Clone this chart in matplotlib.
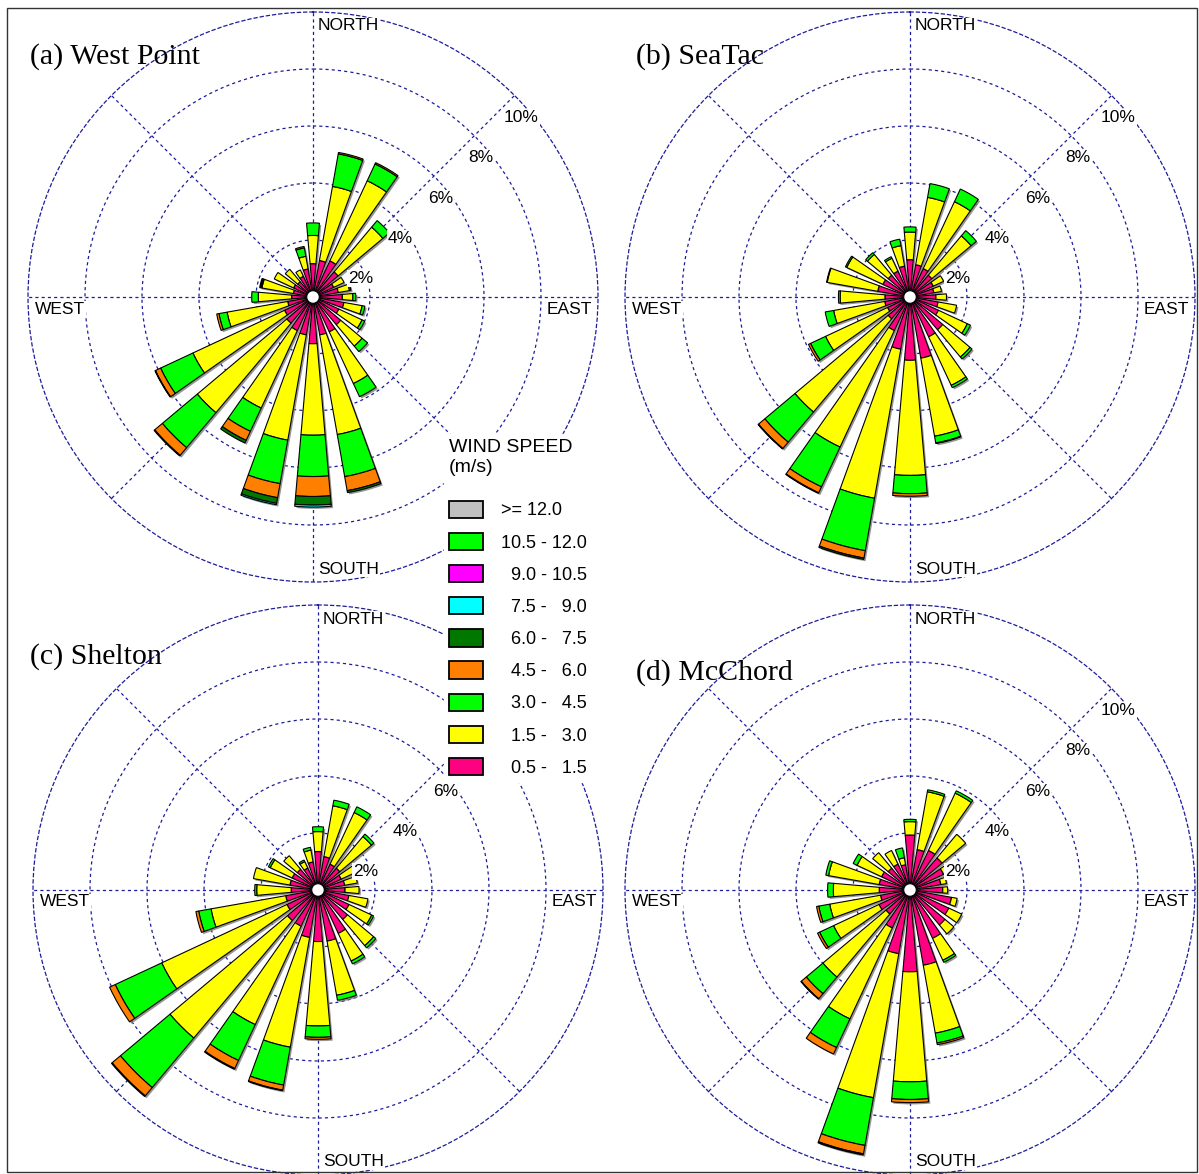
import numpy as np
import matplotlib
matplotlib.use("Agg")
import matplotlib.pyplot as plt
from matplotlib.patches import Patch, Rectangle
import matplotlib.patheffects as pe

plt.rcParams['font.family'] = ['Liberation Sans', 'DejaVu Sans']

# ---------------- data (percent frequency per 15-degree sector) ----------------
directions = list(range(0, 360, 15))
speed_classes = ["0.5 - 1.5", "1.5 - 3.0", "3.0 - 4.5", "4.5 - 6.0", "6.0 - 7.5", "7.5 - 9.0"]

# (a) West Point
A_pink = [1.17, 1.30, 1.40, 1.15, 0.80, 0.90, 1.03, 1.10, 1.00, 1.27, 1.35, 1.35,
          1.64, 1.35, 1.30, 1.20, 1.10, 0.90, 0.75, 0.70, 0.75, 0.70, 0.80, 1.00]
A_yellow = [0.99, 2.64, 3.10, 2.05, 0.40, 0.40, 0.37, 0.65, 0.90, 0.98, 2.00, 3.55,
            3.21, 3.75, 3.00, 4.10, 3.55, 2.16, 1.17, 1.12, 0.75, 0.57, 0.25, 0.45]
A_green = [0.44, 1.16, 0.65, 0.30, 0.00, 0.05, 0.10, 0.10, 0.10, 0.25, 0.51, 1.50,
           1.45, 1.55, 0.90, 1.60, 1.25, 0.29, 0.23, 0.04, 0.00, 0.00, 0.00, 0.30]
A_orange = [0.00, 0.05, 0.05, 0.00, 0.00, 0.00, 0.00, 0.00, 0.00, 0.00, 0.00, 0.50,
            0.70, 0.50, 0.35, 0.35, 0.20, 0.08, 0.00, 0.04, 0.00, 0.00, 0.00, 0.05]
A_dkgreen = [0.00, 0.00, 0.00, 0.00, 0.00, 0.00, 0.00, 0.00, 0.00, 0.00, 0.00, 0.07,
             0.30, 0.20, 0.10, 0.03, 0.02, 0.00, 0.00, 0.00, 0.00, 0.00, 0.00, 0.00]
A_cyan = [0.00, 0.00, 0.00, 0.00, 0.00, 0.00, 0.00, 0.00, 0.00, 0.00, 0.00, 0.00,
          0.07, 0.05, 0.00, 0.00, 0.00, 0.00, 0.00, 0.00, 0.00, 0.00, 0.00, 0.00]

# (b) SeaTac
B_pink = [1.31, 1.15, 1.10, 1.00, 0.90, 0.85, 0.91, 1.00, 1.10, 1.50, 1.54, 2.18,
          2.22, 1.86, 1.30, 1.00, 0.87, 0.90, 0.88, 1.15, 1.05, 1.00, 1.00, 1.10]
B_yellow = [0.97, 2.40, 2.59, 1.80, 0.40, 0.27, 0.37, 0.66, 1.12, 1.25, 1.88, 2.78,
            4.04, 5.31, 4.51, 4.27, 2.40, 1.82, 1.57, 1.80, 1.40, 0.95, 0.50, 0.73]
B_green = [0.18, 0.49, 0.49, 0.24, 0.00, 0.00, 0.00, 0.00, 0.12, 0.09, 0.09, 0.24,
           0.64, 1.87, 1.54, 1.38, 0.58, 0.30, 0.06, 0.02, 0.05, 0.08, 0.06, 0.23]
B_orange = [0.00, 0.00, 0.00, 0.00, 0.00, 0.00, 0.00, 0.00, 0.00, 0.00, 0.00, 0.02,
            0.09, 0.26, 0.23, 0.29, 0.08, 0.00, 0.00, 0.00, 0.00, 0.00, 0.00, 0.00]
B_dkgreen = [0.00, 0.00, 0.00, 0.00, 0.00, 0.00, 0.00, 0.00, 0.00, 0.00, 0.00, 0.00,
             0.00, 0.05, 0.02, 0.02, 0.00, 0.00, 0.00, 0.00, 0.00, 0.00, 0.00, 0.00]
B_cyan = [0.0] * 24

# (c) Shelton
C_pink = [1.35, 1.19, 1.00, 1.00, 0.90, 0.95, 0.95, 1.10, 1.20, 1.35, 1.68, 1.82,
          1.81, 1.69, 1.40, 1.40, 1.20, 1.15, 0.94, 1.00, 1.00, 0.95, 0.85, 1.00]
C_yellow = [0.70, 1.81, 2.00, 1.45, 0.60, 0.45, 0.49, 0.68, 0.88, 1.20, 1.07, 1.93,
            2.96, 3.91, 3.81, 5.38, 4.85, 2.66, 1.21, 1.30, 0.85, 0.62, 0.25, 0.42]
C_green = [0.17, 0.20, 0.22, 0.11, 0.00, 0.00, 0.00, 0.00, 0.07, 0.10, 0.11, 0.18,
           0.40, 1.35, 1.39, 2.27, 1.80, 0.44, 0.07, 0.00, 0.07, 0.00, 0.06, 0.10]
C_orange = [0.00, 0.00, 0.00, 0.00, 0.00, 0.00, 0.00, 0.00, 0.00, 0.00, 0.00, 0.00,
            0.07, 0.18, 0.31, 0.38, 0.22, 0.10, 0.00, 0.00, 0.00, 0.00, 0.00, 0.00]
C_dkgreen = [0.00, 0.00, 0.00, 0.00, 0.00, 0.00, 0.00, 0.00, 0.00, 0.00, 0.00, 0.00,
             0.00, 0.02, 0.03, 0.03, 0.00, 0.00, 0.00, 0.00, 0.00, 0.00, 0.00, 0.00]
C_cyan = [0.0] * 24

# (d) McChord
D_pink = [1.93, 1.44, 1.53, 1.47, 1.30, 1.10, 1.15, 1.48, 1.50, 1.60, 1.87, 2.68,
          2.87, 2.27, 1.47, 1.10, 1.20, 1.05, 1.08, 1.10, 1.10, 1.00, 1.00, 0.90]
D_yellow = [0.47, 2.06, 2.22, 1.08, 0.17, 0.20, 0.17, 0.20, 0.50, 0.41, 0.85, 2.42,
            3.86, 5.13, 3.52, 2.89, 1.76, 1.81, 1.61, 1.80, 0.95, 0.71, 0.53, 0.25]
D_green = [0.08, 0.07, 0.09, 0.00, 0.00, 0.00, 0.00, 0.00, 0.00, 0.00, 0.08, 0.35,
           0.62, 1.70, 1.11, 0.76, 0.54, 0.39, 0.20, 0.10, 0.15, 0.00, 0.00, 0.35]
D_orange = [0.00, 0.00, 0.00, 0.00, 0.00, 0.00, 0.00, 0.00, 0.00, 0.00, 0.00, 0.06,
            0.11, 0.30, 0.25, 0.23, 0.08, 0.08, 0.00, 0.00, 0.00, 0.00, 0.00, 0.00]
D_dkgreen = [0.00, 0.00, 0.00, 0.00, 0.00, 0.00, 0.00, 0.00, 0.00, 0.00, 0.00, 0.00,
             0.00, 0.04, 0.00, 0.02, 0.00, 0.00, 0.00, 0.00, 0.00, 0.00, 0.00, 0.00]
D_cyan = [0.0] * 24

panel_titles = ["(a) West Point", "(b) SeaTac", "(c) Shelton", "(d) McChord"]
ring_values = [2, 4, 6, 8, 10]
legend_labels = [">= 12.0", "10.5 - 12.0", "  9.0 - 10.5", "  7.5 -   9.0", "  6.0 -   7.5",
                 "  4.5 -   6.0", "  3.0 -   4.5", "  1.5 -   3.0", "  0.5 -   1.5"]

# ---------------- styling ----------------
W, H = 1199, 1174
DPI = 100
PT = 72.0 / DPI  # points per pixel
R_PX = 285
GRID = '#1c1c9c'
seg_colors = ['#FF0080', '#FFFF00', '#00FF00', '#FF8000', '#007800', '#00FFFF']
legend_colors = ['#C0C0C0', '#00FF00', '#FF00FF', '#00FFFF', '#007800',
                 '#FF8000', '#00FF00', '#FFFF00', '#FF0080']

panels = [
    dict(center=(313, 297), data=[A_pink, A_yellow, A_green, A_orange, A_dkgreen, A_cyan],
         title_pos=(30, 57), rings_shown=[2, 4, 6, 8, 10]),
    dict(center=(910, 297), data=[B_pink, B_yellow, B_green, B_orange, B_dkgreen, B_cyan],
         title_pos=(636, 57), rings_shown=[2, 4, 6, 8, 10]),
    dict(center=(318, 890), data=[C_pink, C_yellow, C_green, C_orange, C_dkgreen, C_cyan],
         title_pos=(30, 657), rings_shown=[2, 4, 6]),   # 8% / 10% hidden under the legend
    dict(center=(910, 890), data=[D_pink, D_yellow, D_green, D_orange, D_dkgreen, D_cyan],
         title_pos=(636, 673), rings_shown=[2, 4, 6, 8, 10]),
]

fig = plt.figure(figsize=(W / DPI, H / DPI), dpi=DPI)
fig.patch.set_facecolor('white')

theta = np.deg2rad(directions)
bar_w = np.deg2rad(10)
dash = (0, (2.5, 2.5))

for p, title in zip(panels, panel_titles):
    cx, cy = p['center']
    rect = [(cx - R_PX) / W, 1 - (cy + R_PX) / H, 2 * R_PX / W, 2 * R_PX / H]
    ax = fig.add_axes(rect, projection='polar')
    ax.set_theta_zero_location('N')
    ax.set_theta_direction(-1)
    ax.set_ylim(0, 10)
    ax.set_yticks(ring_values[:-1])
    ax.set_yticklabels([])
    ax.set_xticks(np.deg2rad(np.arange(0, 360, 45)))
    ax.set_xticklabels([])
    ax.grid(True, color=GRID, linestyle=dash, linewidth=0.9)
    ax.spines['polar'].set_color(GRID)
    ax.spines['polar'].set_linestyle(dash)
    ax.spines['polar'].set_linewidth(0.9)
    ax.patch.set_alpha(0)
    ax.set_axisbelow(True)

    data = np.array(p['data'])
    total = data.sum(axis=0)
    # drop shadow of each bar
    ax.bar(theta, total, width=bar_w, bottom=0, color='white', edgecolor='none',
           zorder=2, path_effects=[pe.SimplePatchShadow(offset=(1.3, -1.3),
                                                         shadow_rgbFace='#7a7a7a', alpha=0.8)])
    bottom = np.zeros(len(directions))
    for vals, col in zip(data, seg_colors):
        vals = np.asarray(vals)
        mask = vals > 0
        ax.bar(theta[mask], vals[mask], width=bar_w, bottom=bottom[mask], color=col,
               edgecolor='black', linewidth=0.8, zorder=3)
        bottom = bottom + vals
    # calm circle
    tt = np.linspace(0, 2 * np.pi, 120)
    ax.fill(tt, np.full_like(tt, 0.22), facecolor='white', edgecolor='black',
            linewidth=0.8, zorder=5)

    # ring labels
    for r in p['rings_shown']:
        ax.annotate(f'{r}%', xy=(np.pi / 4, r), xytext=(7 * PT, -22 * PT),
                    textcoords='offset points', ha='center', va='center', fontsize=12.5,
                    annotation_clip=False, zorder=6,
                    bbox=dict(facecolor='white', edgecolor='none', pad=0.6))
    # compass labels
    lab_kw = dict(textcoords='offset points', va='center', fontsize=12.5,
                  annotation_clip=False, zorder=6,
                  bbox=dict(facecolor='white', edgecolor='none', pad=0.6))
    ax.annotate('NORTH', xy=(0, 10), xytext=(5 * PT, -14 * PT), ha='left', **lab_kw)
    ax.annotate('SOUTH', xy=(np.pi, 10), xytext=(5 * PT, 13 * PT), ha='left', **lab_kw)
    ax.annotate('WEST', xy=(1.5 * np.pi, 10), xytext=(7 * PT, -12 * PT), ha='left', **lab_kw)
    ax.annotate('EAST', xy=(0.5 * np.pi, 10), xytext=(-6 * PT, -12 * PT), ha='right', **lab_kw)

    tx, ty = p['title_pos']
    fig.text(tx / W, 1 - ty / H, title, family='Liberation Serif', fontsize=21.5,
             ha='left', va='center')

handles = [Patch(facecolor=c, edgecolor='black', linewidth=1.3, label=l)
           for c, l in zip(legend_colors, legend_labels)]
leg = fig.legend(handles=handles, loc='upper left', bbox_to_anchor=(444 / W, 1 - 434 / H),
                 frameon=True, facecolor='white', edgecolor='white', framealpha=1,
                 fancybox=False, title='WIND SPEED\n(m/s)', title_fontsize=14, fontsize=13,
                 handlelength=1.9, handleheight=1.1, handletextpad=1.0, labelspacing=0.74,
                 borderpad=0.28, borderaxespad=0, alignment='left')
leg.get_title().set_multialignment('left')
leg._legend_box.sep = 18
leg.set_zorder(10)

fig.add_artist(Rectangle((7 / W, 1 - 1172 / H), (1197 - 7) / W, (1172 - 8) / H,
                         transform=fig.transFigure, fill=False, edgecolor='#333333',
                         linewidth=1))

fig.savefig('out.png', dpi=DPI, facecolor='white')
